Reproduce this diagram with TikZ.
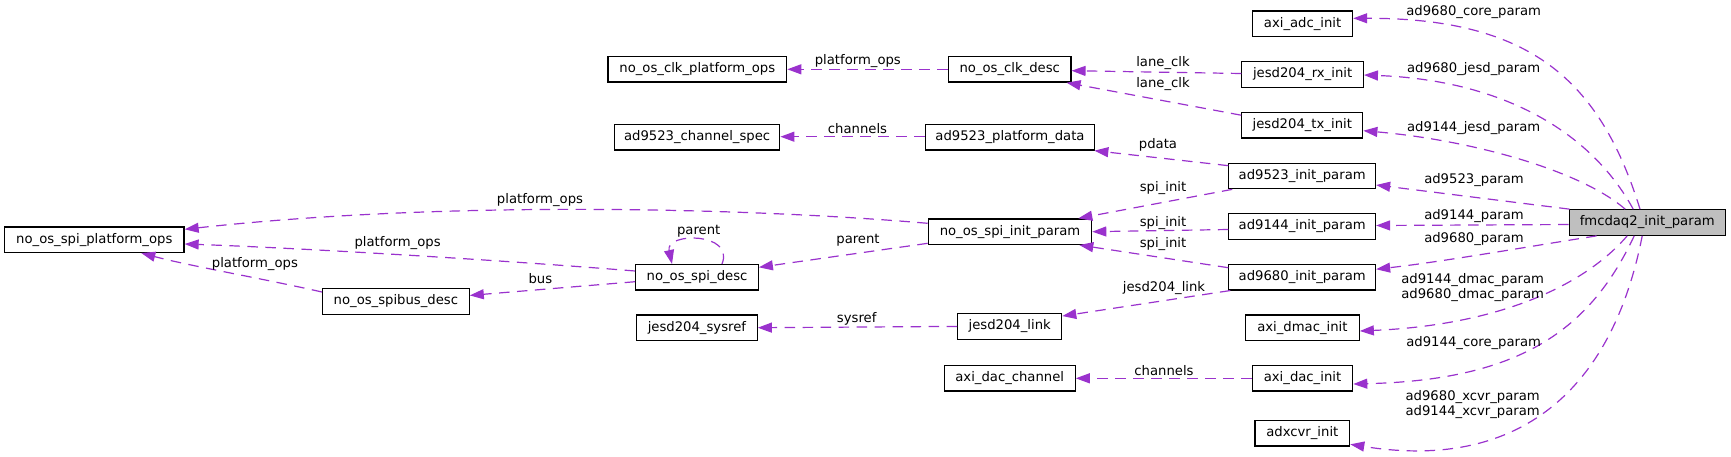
\documentclass[tikz,border=0pt]{standalone}
\usepackage{fontspec}
\setmainfont{DejaVu Sans}
\usetikzlibrary{arrows.meta,calc}
\definecolor{edgec}{HTML}{9A32CD}
\definecolor{fmcfill}{HTML}{BFBFBF}
\begin{document}
\begin{tikzpicture}[x=1pt,y=-1pt,
  box/.style={draw=black,line width=1.2pt,fill=white,minimum height=25.5pt,inner sep=0pt,
    text height=9.6pt,text depth=2.7pt,font=\fontsize{13.2}{15}\selectfont},
  lbl/.style={inner sep=0pt,font=\fontsize{13.2}{15}\selectfont,align=center},
  ref/.style={draw=edgec,line width=1.2pt,dash pattern=on 10.5pt off 7.5pt,
    -{Triangle[length=14pt,width=10pt]}},
]
\useasboundingbox (0,0) rectangle (1731,456);
% nodes
\node[box,minimum width=100pt]   (adc)     at (1302.6,23.7)  {axi\_adc\_init};
\node[box,minimum width=121.5pt] (rx)      at (1302.6,74.5)  {jesd204\_rx\_init};
\node[box,minimum width=121pt]   (tx)      at (1302.3,125.2) {jesd204\_tx\_init};
\node[box,minimum width=146.7pt] (a23)     at (1302.2,176)   {ad9523\_init\_param};
\node[box,minimum width=146.7pt] (a44)     at (1302.2,226.5) {ad9144\_init\_param};
\node[box,minimum width=156pt,fill=fmcfill] (fmc) at (1647.2,222.5) {fmcdaq2\_init\_param};
\node[box,minimum width=146.7pt] (a80)     at (1302.2,277.2) {ad9680\_init\_param};
\node[box,minimum width=113.7pt] (dmac)    at (1302.4,327.7) {axi\_dmac\_init};
\node[box,minimum width=100.4pt] (dac)     at (1302.5,378.3) {axi\_dac\_init};
\node[box,minimum width=94.8pt]  (xcvr)    at (1302.3,433.3) {adxcvr\_init};
\node[box,minimum width=178.8pt] (clkops)  at (697.3,69.3)   {no\_os\_clk\_platform\_ops};
\node[box,minimum width=122.5pt] (clk)     at (1009.7,69.3)  {no\_os\_clk\_desc};
\node[box,minimum width=165.4pt] (chspec)  at (697.1,137.3)  {ad9523\_channel\_spec};
\node[box,minimum width=169.5pt] (pdata)   at (1010,137.3)   {ad9523\_platform\_data};
\node[box,minimum width=163.4pt] (spiinit) at (1010,231.7)   {no\_os\_spi\_init\_param};
\node[box,minimum width=122.6pt] (spidesc) at (697,277.3)    {no\_os\_spi\_desc};
\node[box,minimum width=120.6pt] (sysref)  at (696.9,327.7)  {jesd204\_sysref};
\node[box,minimum width=104pt]   (link)    at (1009.7,326.4) {jesd204\_link};
\node[box,minimum width=130.9pt] (dacch)   at (1009.7,378.3) {axi\_dac\_channel};
\node[box,minimum width=179.5pt] (spiops)  at (94.3,239.7)   {no\_os\_spi\_platform\_ops};
\node[box,minimum width=146.6pt] (spibus)  at (395.9,301.4)  {no\_os\_spibus\_desc};
% edges from fmcdaq2_init_param
\draw[ref] ($(fmc.north)+(-7.2,0)$) .. controls (1600,80) and (1530,18) .. ($(adc.east)+(0,-5.4)$);
\draw[ref] ($(fmc.north)+(-14,0)$) .. controls (1590,130) and (1500,80) .. ($(rx.east)+(0,0.5)$);
\draw[ref] ($(fmc.north)+(-22,0)$) .. controls (1580,170) and (1470,140) .. ($(tx.east)+(0,5.5)$);
\draw[ref] ($(fmc.north west)+(1,0)$) -- ($(a23.east)+(0,9)$);
\draw[ref] ($(fmc.west)+(0,2)$) -- ($(a44.east)+(0,-1)$);
\draw[ref] ($(fmc.south west)+(28,0)$) .. controls (1520,248) and (1440,262) .. ($(a80.east)+(0,-8)$);
\draw[ref] ($(fmc.south)+(-20,0)$) .. controls (1585,285) and (1500,325) .. ($(dmac.east)+(0,3.3)$);
\draw[ref] ($(fmc.south)+(-13,0)$) .. controls (1590,330) and (1520,380) .. ($(dac.east)+(0,5.7)$);
\draw[ref] ($(fmc.south)+(-5,0)$) .. controls (1610,400) and (1510,470) .. ($(xcvr.east)+(0,11)$);
% other edges
\draw[ref] ($(rx.west)+(0,-1)$) -- ($(clk.east)+(0,1.4)$);
\draw[ref] ($(tx.west)+(0,-10)$) -- ($(clk.south east)+(-5,0)$);
\draw[ref] (clk.west) -- (clkops.east);
\draw[ref] ($(a23.north west)+(0,3)$) -- ($(pdata.south east)+(-1,0)$);
\draw[ref] ($(pdata.west)+(0,-0.6)$) -- ($(chspec.east)+(0,-0.6)$);
\draw[ref] ($(a23.south west)+(4,0)$) -- ($(spiinit.north east)+(-14,0)$);
\draw[ref] ($(a44.west)+(0,3)$) -- (spiinit.east);
\draw[ref] ($(a80.west)+(0,-9.5)$) -- ($(spiinit.south east)+(-13,0)$);
\draw[ref] ($(a80.south west)+(2,0)$) -- ($(link.north east)+(0,3)$);
\draw[ref] (link.west) -- (sysref.east);
\draw[ref] (dac.west) -- (dacch.east);
\draw[ref] ($(spiinit.west)+(0,-8.4)$) .. controls (750,208) and (450,200) .. ($(spiops.east)+(0,-10.4)$);
\draw[ref] ($(spidesc.west)+(0,-6.3)$) .. controls (500,260) and (300,248) .. ($(spiops.east)+(0,4.3)$);
\draw[ref] ($(spibus.west)+(0,-9.4)$) .. controls (260,278) and (190,266) .. ($(spiops.south)+(47,0)$);
\draw[ref] ($(spidesc.west)+(0,4.4)$) -- ($(spibus.east)+(0,-6)$);
\draw[ref] ($(spidesc.north)+(25,0)$) .. controls (735,232) and (665,232) .. ($(spidesc.north)+(-25,0)$);
\draw[ref] ($(spiinit.west)+(0,11.6)$) -- ($(spidesc.east)+(0,-10)$);
% edge labels
\node[lbl] (l1)  at (1473.7,11.7)  {ad9680\_core\_param};
\node[lbl] (l2)  at (1473.7,69)    {ad9680\_jesd\_param};
\node[lbl] (l3)  at (1473.7,127.7) {ad9144\_jesd\_param};
\node[lbl] (l4)  at (1474,180)     {ad9523\_param};
\node[lbl] (l5)  at (1474,216)     {ad9144\_param};
\node[lbl] (l6)  at (1474,238.7)   {ad9680\_param};
\node[lbl] (l7)  at (1472.7,287.2) {ad9144\_dmac\_param\\ad9680\_dmac\_param};
\node[lbl] (l8)  at (1473.7,342.7) {ad9144\_core\_param};
\node[lbl] (l9)  at (1472.7,404.2) {ad9680\_xcvr\_param\\ad9144\_xcvr\_param};
\node[lbl] (l10) at (1163,63.3)    {lane\_clk};
\node[lbl] (l11) at (1163,84.3)    {lane\_clk};
\node[lbl] (l12) at (857.8,61)     {platform\_ops};
\node[lbl] (l13) at (857.5,128.3)  {channels};
\node[lbl] (l14) at (1158,145)     {pdata};
\node[lbl] (l15) at (1163,187.7)   {spi\_init};
\node[lbl] (l16) at (1163,222.7)   {spi\_init};
\node[lbl] (l17) at (1163,244)     {spi\_init};
\node[lbl] (l18) at (1164,288.3)   {jesd204\_link};
\node[lbl] (l19) at (856.7,319.3)  {sysref};
\node[lbl] (l20) at (1164,371)     {channels};
\node[lbl] (l21) at (540,200)      {platform\_ops};
\node[lbl] (l22) at (397.6,242.7)  {platform\_ops};
\node[lbl] (l23) at (254.9,264.3)  {platform\_ops};
\node[lbl] (l24) at (540.4,278.3)  {bus};
\node[lbl] (l25) at (698.7,231.7)  {parent};
\node[lbl] (l26) at (858,240)      {parent};
\end{tikzpicture}
\end{document}
